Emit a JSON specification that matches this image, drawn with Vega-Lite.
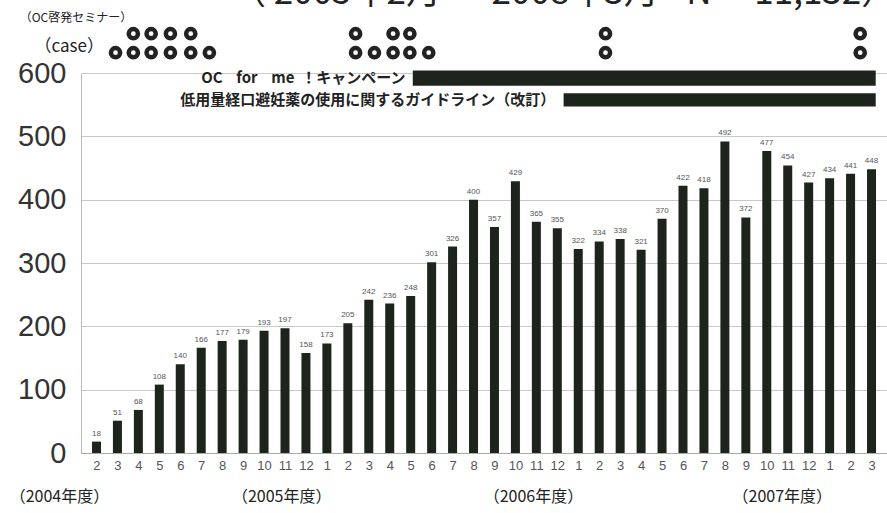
{
  "$schema": "https://vega.github.io/schema/vega-lite/v6.json",
  "width": 806,
  "height": 380,
  "autosize": {"type": "none"},
  "padding": {"left": 81, "top": 73, "right": 0, "bottom": 60},
  "background": "white",
  "config": {
    "view": {"stroke": null},
    "font": "Liberation Sans"
  },
  "datasets": {
    "counts": [
      {"x": 0, "y": 18}, {"x": 1, "y": 51}, {"x": 2, "y": 68}, {"x": 3, "y": 108},
      {"x": 4, "y": 140}, {"x": 5, "y": 166}, {"x": 6, "y": 177}, {"x": 7, "y": 179},
      {"x": 8, "y": 193}, {"x": 9, "y": 197}, {"x": 10, "y": 158}, {"x": 11, "y": 173},
      {"x": 12, "y": 205}, {"x": 13, "y": 242}, {"x": 14, "y": 236}, {"x": 15, "y": 248},
      {"x": 16, "y": 301}, {"x": 17, "y": 326}, {"x": 18, "y": 400}, {"x": 19, "y": 357},
      {"x": 20, "y": 429}, {"x": 21, "y": 365}, {"x": 22, "y": 355}, {"x": 23, "y": 322},
      {"x": 24, "y": 334}, {"x": 25, "y": 338}, {"x": 26, "y": 321}, {"x": 27, "y": 370},
      {"x": 28, "y": 422}, {"x": 29, "y": 418}, {"x": 30, "y": 492}, {"x": 31, "y": 372},
      {"x": 32, "y": 477}, {"x": 33, "y": 454}, {"x": 34, "y": 427}, {"x": 35, "y": 434},
      {"x": 36, "y": 441}, {"x": 37, "y": 448}
    ],
    "seminars": [
      {"x": 1.76, "y": 662}, {"x": 2.61, "y": 662}, {"x": 3.53, "y": 662}, {"x": 4.5, "y": 662},
      {"x": 12.37, "y": 662}, {"x": 14.16, "y": 662}, {"x": 14.96, "y": 662},
      {"x": 24.3, "y": 662}, {"x": 36.46, "y": 662},
      {"x": 0.91, "y": 632}, {"x": 1.76, "y": 632}, {"x": 2.61, "y": 632}, {"x": 3.53, "y": 632},
      {"x": 4.5, "y": 632}, {"x": 5.39, "y": 632},
      {"x": 12.37, "y": 632}, {"x": 13.27, "y": 632}, {"x": 14.16, "y": 632}, {"x": 14.96, "y": 632},
      {"x": 15.86, "y": 632}, {"x": 24.3, "y": 632}, {"x": 36.46, "y": 632}
    ],
    "campaigns": [
      {"x": 15.1, "x2": 37.2, "y": 604, "y2": 580},
      {"x": 22.3, "x2": 37.2, "y": 568, "y2": 547}
    ],
    "campaignLabels": [
      {"label": "OC\u00a0\u00a0\u00a0\u00a0for\u00a0\u00a0\u00a0\u00a0me\u00a0\u00a0！キャンペーン", "x": 14.75, "y": 592},
      {"label": "低用量経口避妊薬の使用に関するガイドライン（改訂）", "x": 21.9, "y": 557}
    ],
    "notes": [
      {"text": "（OC啓発セミナー）", "x": -0.98, "y": 687, "size": 12, "weight": "bold"},
      {"text": "（case）", "x": -1.3, "y": 641, "size": 17, "weight": "normal"},
      {"text": "（2004年度）", "x": -1.77, "y": -69, "size": 16, "weight": "bold"},
      {"text": "（2005年度）", "x": 8.84, "y": -69, "size": 16, "weight": "bold"},
      {"text": "（2006年度）", "x": 20.86, "y": -69, "size": 16, "weight": "bold"},
      {"text": "（2007年度）", "x": 32.74, "y": -69, "size": 16, "weight": "bold"},
      {"text": "（ 2005年2月 ～ 2008年3月 ·N＝ 11,132）", "x": 22.3, "y": 727, "size": 35, "weight": "bold"}
    ]
  },
  "encoding": {
    "x": {
      "field": "x", "type": "quantitative", "title": null,
      "scale": {"domain": [-0.5, 37.5], "nice": false, "zero": false},
      "axis": {
        "values": [0,1,2,3,4,5,6,7,8,9,10,11,12,13,14,15,16,17,18,19,20,21,22,23,24,25,26,27,28,29,30,31,32,33,34,35,36,37],
        "labelExpr": "['2','3','4','5','6','7','8','9','10','11','12','1','2','3','4','5','6','7','8','9','10','11','12','1','2','3','4','5','6','7','8','9','10','11','12','1','2','3'][datum.value]",
        "grid": false, "ticks": false, "domainColor": "#aaaaaa",
        "labelColor": "#555555", "labelFontSize": 13, "labelPadding": 6,
        "labelFont": "Liberation Sans", "labelOverlap": false, "labelFlush": false
      }
    },
    "y": {
      "field": "y", "type": "quantitative", "title": null,
      "scale": {"domain": [0, 600], "nice": false},
      "axis": {
        "values": [0, 100, 200, 300, 400, 500, 600],
        "grid": true, "gridColor": "#c8c8c8", "ticks": false,
        "domainColor": "#bbbbbb", "labelColor": "#333333",
        "labelFontSize": 29, "labelPadding": 15, "labelFont": "Liberation Sans"
      }
    }
  },
  "layer": [
    {
      "data": {"name": "counts"},
      "mark": {"type": "bar", "size": 9, "orient": "vertical", "color": "#1c241c"}
    },
    {
      "data": {"name": "counts"},
      "mark": {"type": "text", "dy": -8, "fontSize": 8, "color": "#555555", "font": "Liberation Sans"},
      "encoding": {
        "text": {"field": "y", "type": "quantitative"}
      }
    },
    {
      "data": {"name": "seminars"},
      "mark": {"type": "point", "shape": "circle", "filled": false, "size": 85, "strokeWidth": 4.5, "color": "#222222", "opacity": 1}
    },
    {
      "data": {"name": "campaigns"},
      "mark": {"type": "rect", "color": "#1c241c"},
      "encoding": {
        "x2": {"field": "x2"},
        "y2": {"field": "y2"}
      }
    },
    {
      "data": {"name": "campaignLabels"},
      "mark": {"type": "text", "align": "right", "baseline": "middle", "fontSize": 15, "fontWeight": "bold", "font": "Noto Sans CJK JP", "color": "#222222"},
      "encoding": {
        "text": {"field": "label"}
      }
    },
    {
      "data": {"name": "notes"},
      "mark": {"type": "text", "align": "center", "baseline": "middle", "font": "Noto Sans CJK JP", "color": "#222222"},
      "encoding": {
        "text": {"field": "text"},
        "size": {"field": "size", "type": "quantitative", "scale": null},
        "fontWeight": {"field": "weight", "type": "nominal", "scale": null}
      }
    }
  ]
}
